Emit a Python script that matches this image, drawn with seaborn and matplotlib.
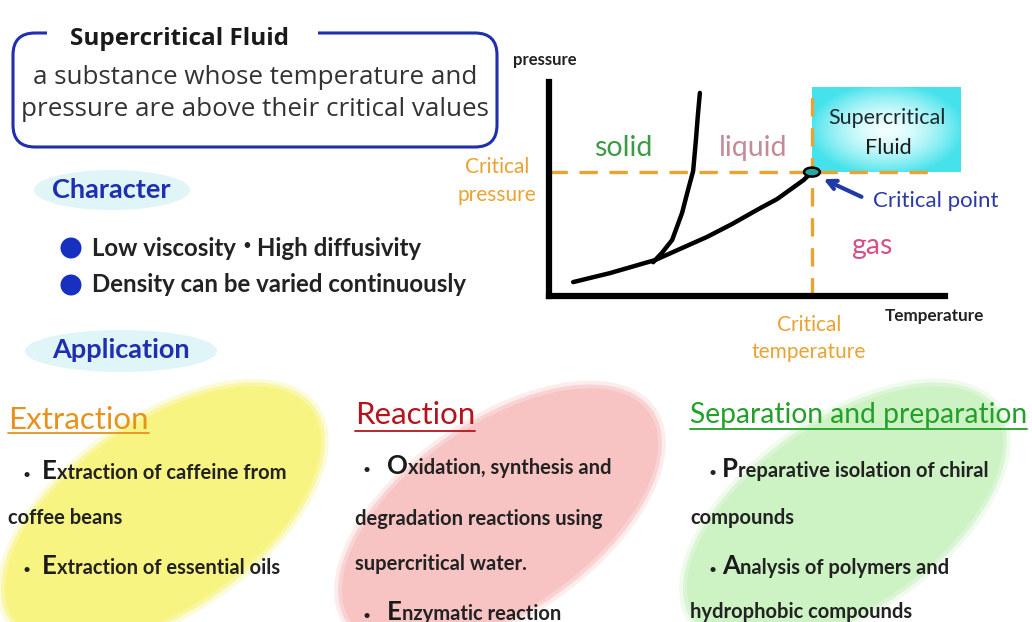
import matplotlib
matplotlib.use("Agg")
import numpy as np
import pandas as pd
import seaborn as sns
import matplotlib.pyplot as plt
from matplotlib.colors import LinearSegmentedColormap
from matplotlib.patches import Ellipse, FancyBboxPatch

# phase diagram (temperature / pressure, arbitrary units 0-100)
melt_T = [26.3, 28.5, 31.1, 33.6, 35.1, 36.4, 37.1, 37.6, 38.1]
melt_P = [15.8, 20.1, 26.2, 38.8, 49.5, 58.4, 72.9, 84.6, 94.9]
vap_T = [6.1, 15.4, 26.8, 33.1, 39.9, 46.2, 52.5, 57.6, 61.6, 64.3, 66.4]
vap_P = [6.5, 10.7, 16.8, 22.0, 27.6, 33.6, 40.2, 45.3, 50.6, 54.2, 57.9]
crit_T, crit_P = 66.4, 57.9
scf_box = (66.4, 57.9, 103.8, 97.2)  # T0, P0, T1, P1

definition = ["a substance whose temperature and", "pressure are above their critical values"]
characters = ["Low viscosity \u2022 High diffusivity", "Density can be varied continuously"]

panel_titles = ["Extraction", "Reaction", "Separation and preparation"]
extraction_items = ["\u2022 Extraction of caffeine from", "coffee beans",
                    "\u2022 Extraction of essential oils"]
reaction_items = ["\u2022 Oxidation, synthesis and", "degradation reactions using",
                  "supercritical water.", "\u2022 Enzymatic reaction"]
separation_items = ["\u2022 Preparative isolation of chiral", "compounds",
                    "\u2022 Analysis of polymers and", "hydrophobic compounds"]

sns.set_theme(style="white")
plt.rcParams["font.family"] = ["Lato", "DejaVu Sans"]

BLUE = "#1f2fae"
ORANGE = "#eaa232"
SANS = ["Open Sans", "DejaVu Sans"]

fig = plt.figure(figsize=(10.32, 6.22), dpi=100)
ax = fig.add_axes([0, 0, 1, 1])
ax.set_xlim(0, 1032)
ax.set_ylim(622, 0)
ax.axis("off")
ax.set_zorder(3)


def data_x1(t):
    fig.canvas.draw()
    bb = t.get_window_extent()
    return ax.transData.inverted().transform((bb.x1, bb.y0))[0]


# ---- definition box
box = FancyBboxPatch((13, 33), 484, 114, boxstyle="round,pad=0,rounding_size=22",
                     fc="none", ec=BLUE, lw=2.2)
ax.add_patch(box)
ax.plot([47, 318], [33, 33], color="white", lw=6, solid_capstyle="butt")
ax.text(70, 39, "Supercritical Fluid", fontsize=17.5, fontweight="bold",
        color="#1a1a1a", va="center", family=SANS)
ax.text(255, 78, definition[0], fontsize=18.7, color="#333333", ha="center",
        va="center", family=SANS)
ax.text(255, 110, definition[1], fontsize=18.7, color="#333333", ha="center",
        va="center", family=SANS)

# ---- character / application
ax.add_patch(Ellipse((112, 190), 156, 40, fc="#dff5f8", ec="none"))
ax.text(52, 190, "Character", fontsize=19.5, fontweight="bold", color=BLUE, va="center")
for i, s in enumerate(characters):
    y = 248 + i * 37
    ax.add_patch(Ellipse((71, y), 21, 21, fc="#1830c0", ec="none"))
    parts = s.split(" \u2022 ")
    x = 92
    for j, part in enumerate(parts):
        if j > 0:
            dot = ax.text(x + 6, y - 2, "\u2022", fontsize=11, color="#222222", va="center")
            x = data_x1(dot) + 6
        t = ax.text(x, y, part, fontsize=17.3, fontweight="bold", color="#222222",
                    va="center")
        x = data_x1(t)
ax.add_patch(Ellipse((121, 351), 192, 42, fc="#dff5f8", ec="none"))
ax.text(52, 350, "Application", fontsize=19.5, fontweight="bold", color=BLUE, va="center")

# ---- application blobs
blobs = [((163, 515), "#f8f482"), ((500, 517), "#f7c3c3"), ((845, 515), "#cdf2c4")]
for (cx, cy), col in blobs:
    ax.add_patch(Ellipse((cx, cy), 380, 200, angle=-35, fc=col, ec="none", alpha=0.3))
    ax.add_patch(Ellipse((cx, cy), 372, 192, angle=-35, fc=col, ec="none", alpha=0.6))
    ax.add_patch(Ellipse((cx, cy), 364, 184, angle=-35, fc=col, ec="none"))

title_colors = ["#e8921e", "#b5141e", "#22a02a"]
title_pos = [(8, 420, 433, 22.5), (355, 415, 431, 22.5), (690, 415, 429, 20.3)]
for title, col, (tx, ty, uy, fs) in zip(panel_titles, title_colors, title_pos):
    t = ax.text(tx, ty, title, fontsize=fs, color=col, va="center")
    x1 = min(data_x1(t), 1032)
    ax.plot([tx, x1], [uy, uy], color=col, lw=1.3)

panels = [
    (extraction_items, 8, 23, 42, [479, 524, 574]),
    (reaction_items, 355, 363, 387, [474, 525, 570, 620]),
    (separation_items, 690, 708, 722, [477, 524, 574, 618]),
]
for items, x0, xb, xl, ys in panels:
    for s, y in zip(items, ys):
        if s.startswith("\u2022 "):
            ax.text(xb, y, "\u2022", fontsize=10, color="#222222", va="baseline")
            big = ax.text(xl, y, s[2], fontsize=18.5, fontweight="bold",
                          color="#1a1a1a", va="baseline")
            ax.text(data_x1(big), y, s[3:], fontsize=14.5, fontweight="bold",
                    color="#222222", va="baseline")
        else:
            ax.text(x0, y, s, fontsize=14.5, fontweight="bold", color="#222222",
                    va="baseline")

# ---- phase diagram
pax = fig.add_axes([549 / 1032, (622 - 296) / 622, 396 / 1032, 214 / 622])
pax.patch.set_alpha(0)
pax.set_xticks([])
pax.set_yticks([])
for side in ["top", "right"]:
    pax.spines[side].set_visible(False)
for side in ["left", "bottom"]:
    pax.spines[side].set_linewidth(4.5)
    pax.spines[side].set_color("black")
    pax.spines[side].set_zorder(5)

# supercritical region: cyan box with a pale glowing centre
t0, p0, t1, p1 = scf_box
gx, gy = np.meshgrid(np.linspace(-1, 1, 200), np.linspace(-1, 1, 120))
glow = np.clip(np.sqrt((gx / 1.05) ** 2 + (gy / 1.1) ** 2), 0, 1) ** 1.6
cyan = LinearSegmentedColormap.from_list("scf", ["#f2ffff", "#9cf1f5", "#45e2ec"])
im = pax.imshow(glow, cmap=cyan, extent=(t0, t1, p0, p1), aspect="auto",
                origin="lower", zorder=1, interpolation="bilinear")
im.set_clip_on(False)

melt = pd.DataFrame({"T": melt_T, "P": melt_P})
vap = pd.DataFrame({"T": vap_T, "P": vap_P})
for df in [melt, vap]:
    sns.lineplot(data=df, x="T", y="P", sort=False, estimator=None, color="black",
                 lw=3.2, ax=pax, zorder=3, solid_capstyle="round",
                 solid_joinstyle="round")
pax.set_xlabel("")
pax.set_ylabel("")
pax.set_xlim(0, 100)
pax.set_ylim(0, 100)

pax.plot([0, 98], [crit_P, crit_P], color=ORANGE, lw=2.4, dashes=(5.5, 3.5),
         clip_on=False, zorder=2)
pax.plot([crit_T, crit_T], [0, p1], color=ORANGE, lw=2.4, dashes=(5.5, 3.5),
         clip_on=False, zorder=2)
pax.add_patch(Ellipse((crit_T, crit_P), 4.0, 4.2, fc="#2aa6a0", ec="black",
                      lw=1.8, zorder=4))

# diagram labels
ax.text(513, 60, "pressure", fontsize=12, fontweight="bold", color="#222222", va="center")
ax.text(885, 316, "Temperature", fontsize=12.3, fontweight="bold", color="#222222", va="center")
ax.text(594, 148, "solid", fontsize=20.5, color="#3c9a45", va="center")
ax.text(719, 148, "liquid", fontsize=20.5, color="#c48a98", va="center")
ax.text(851, 246, "gas", fontsize=20.5, color="#d4508a", va="center")
ax.text(887, 118, "Supercritical", fontsize=15.5, color="#1a2a30", ha="center", va="center")
ax.text(888, 148, "Fluid", fontsize=15.5, color="#1a1a1a", ha="center", va="center")
ax.text(873, 201, "Critical point", fontsize=16, color="#2a3aa8", va="center")
ax.text(497, 167, "Critical", fontsize=15, color=ORANGE, ha="center", va="center")
ax.text(497, 195, "pressure", fontsize=15, color=ORANGE, ha="center", va="center")
ax.text(809, 325, "Critical", fontsize=15, color=ORANGE, ha="center", va="center")
ax.text(809, 352, "temperature", fontsize=15, color=ORANGE, ha="center", va="center")
ax.annotate("", xy=(821, 178), xytext=(864, 198),
            arrowprops=dict(arrowstyle="->", color="#1f3aa8", lw=3,
                            mutation_scale=16))

fig.savefig("out.png", dpi=100)
